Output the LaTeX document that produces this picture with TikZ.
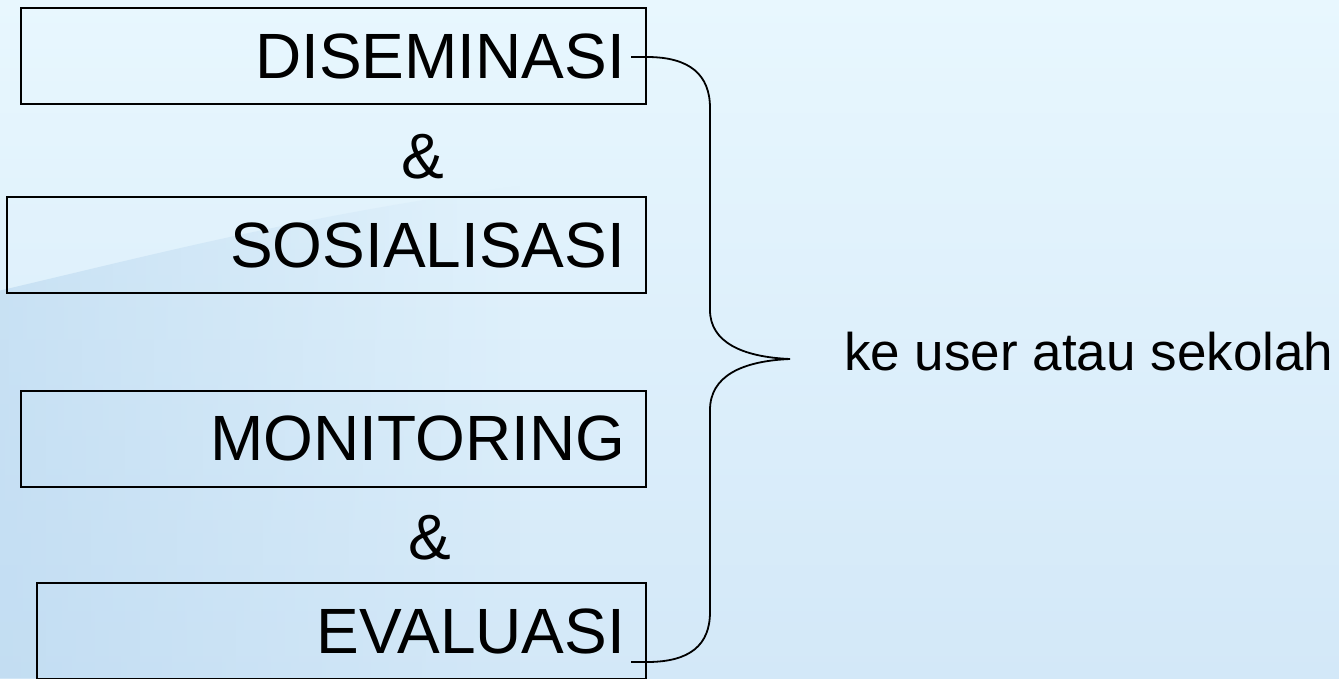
\documentclass[tikz,border=0pt]{standalone}
\usepackage{fontspec}
\setmainfont{Liberation Sans}
\usetikzlibrary{positioning,fadings}
\definecolor{bgtop}{HTML}{E8F7FE}
\definecolor{bgbot}{HTML}{D3E8F8}
\definecolor{swoosh}{HTML}{B6D5EE}
\tikzset{stage/.style={draw,line width=2pt,anchor=east,minimum height=96pt,inner xsep=21pt,inner ysep=0pt,align=right,text width=#1,font=\fontsize{64}{70}\selectfont},
amp/.style={inner sep=0pt,font=\fontsize{64}{70}\selectfont}}

\begin{document}
\begin{tikzpicture}[x=1pt,y=-1pt]
\useasboundingbox (0,0) rectangle (1339,678);
\clip (0,0) rectangle (1339,678);
\shade[top color=bgtop,bottom color=bgbot] (0,0) rectangle (1339,678);
\fill[swoosh,opacity=0.55,path fading=east] (0,290) .. controls (150,255) and (300,215) .. (520,185) -- (520,678) -- (0,678) -- cycle;
\node[stage=583pt] (dis) at (647,56) {DISEMINASI};
\node[amp] (and1) at (423,157) {\&};
\node[stage=597pt] (sos) at (647,245) {SOSIALISASI};
\node[stage=583pt] (mon) at (647,438.5) {MONITORING};
\node[amp] (and2) at (430,538) {\&};
\node[stage=567pt] (eva) at (647,631) {EVALUASI};
\coordinate (btop) at (631,57);
\coordinate (bbot) at (631,662);
\coordinate (tip) at (790,359);
\node[anchor=base west,inner sep=0pt,font=\fontsize{53}{60}\selectfont] (user) at (844,370) {ke user atau sekolah};
\draw[line width=1.8pt] (btop) -- (647,57) .. controls (690,57) and (710,75) .. (710,108) -- (710,310) .. controls (710,342) and (742,357) .. (tip) .. controls (742,361) and (710,376) .. (710,410) -- (710,612) .. controls (710,645) and (690,662) .. (647,662) -- (bbot);
\end{tikzpicture}
\end{document}
